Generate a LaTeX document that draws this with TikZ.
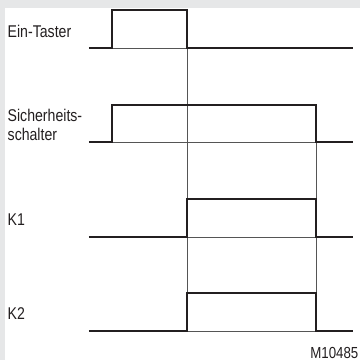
\documentclass[tikz,border=0pt]{standalone}
\usepackage{fontspec}
\setmainfont{Liberation Sans}[FakeStretch=0.83]
\definecolor{pagegray}{HTML}{E6E7E8}
\definecolor{sig}{HTML}{231F20}
\definecolor{guidec}{HTML}{555555}
\definecolor{txt}{HTML}{231F20}
\begin{document}
\begin{tikzpicture}[x=1pt,y=-1pt,
  signal/.style={line width=2pt, draw=sig, line join=miter, line cap=butt},
  guide/.style={line width=0.8pt, draw=guidec},
  lbl/.style={anchor=base west, inner sep=0pt, text=txt,
              font=\fontsize{17}{19}\selectfont}]
  % page and panel
  \fill[pagegray] (0,0) rectangle (360,360);
  \fill[white] (5,8) rectangle (360,360);
  \useasboundingbox (0,0) rectangle (360,360);

  % thin reference lines under the pulses
  \draw[guide] (112,48) -- (187.5,48);
  \draw[guide] (112,142) -- (316,142);
  \draw[guide] (187.5,237) -- (316,237);
  \draw[guide] (187.5,331) -- (316,331);

  % vertical guides
  \draw[guide] (187.5,48) -- (187.5,331);
  \draw[guide] (316,142) -- (316,331);

  % Ein-Taster
  \draw[signal] (89,48) -- (112,48) -- (112,10) -- (187.5,10) -- (187.5,48) -- (353,48);
  % Sicherheitsschalter
  \draw[signal] (89,142) -- (112,142) -- (112,105) -- (316,105) -- (316,142) -- (353,142);
  % K1
  \draw[signal] (89,237) -- (187.5,237) -- (187.5,199) -- (316,199) -- (316,237) -- (353,237);
  % K2
  \draw[signal] (89,331) -- (187.5,331) -- (187.5,293) -- (316,293) -- (316,331) -- (353,331);

  % labels
  \node[lbl] (la) at (7.5,37.3) {Ein-Taster};
  \node[lbl] (lb) at (7.5,121.5) {Sicherheits-};
  \node[lbl] (lc) at (7.5,140.5) {schalter};
  \node[lbl] (ld) at (7.5,225) {K1};
  \node[lbl] (le) at (7.5,319) {K2};
  \node[lbl, anchor=base east, font=\fontsize{16}{18}\selectfont] (lf) at (358.5,358) {M10485};
\end{tikzpicture}
\end{document}
